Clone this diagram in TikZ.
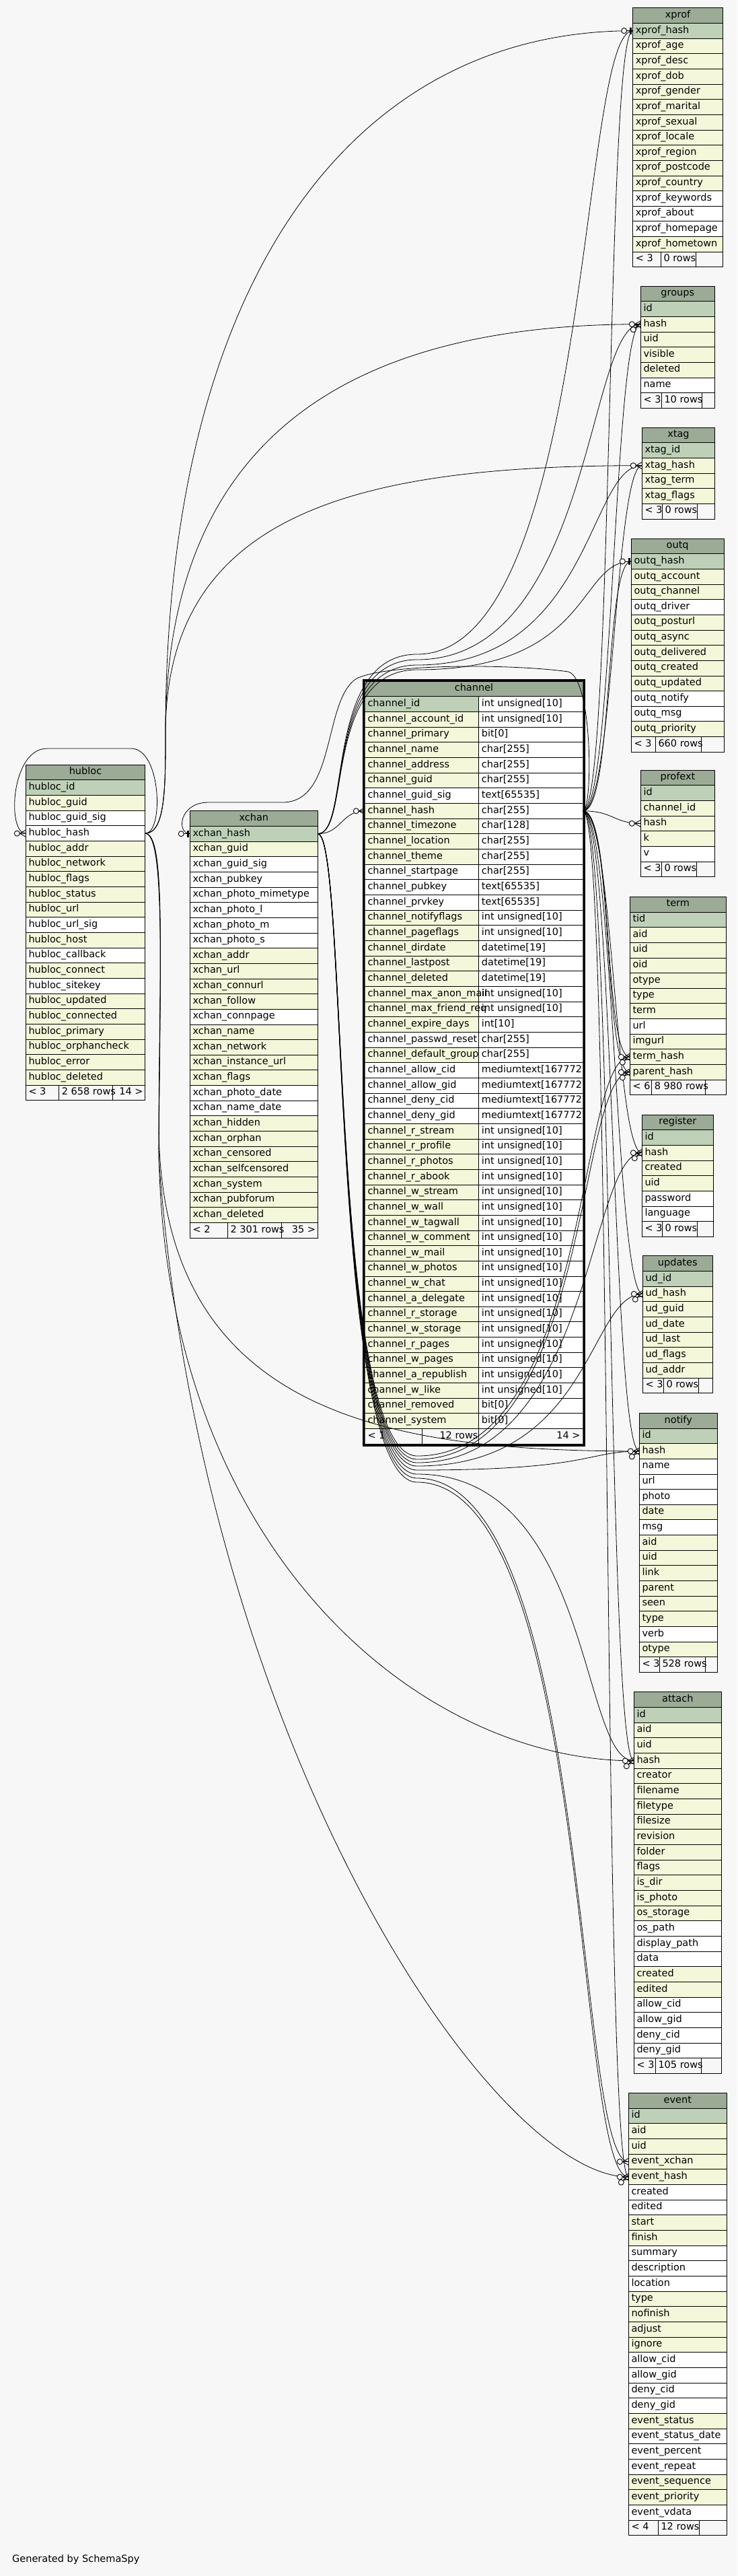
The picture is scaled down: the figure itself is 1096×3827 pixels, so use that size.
\documentclass[tikz,border=0pt]{standalone}
\usepackage{fontspec}
\setmainfont{DejaVu Sans}
\usetikzlibrary{positioning,calc}
\definecolor{canvas}{HTML}{F7F7F7}
\definecolor{hdr}{HTML}{9BAB96}
\definecolor{pk}{HTML}{BED1B8}
\definecolor{ix}{HTML}{F4F7DA}
\def\rowh{22.66}
\tikzset{
  rowbox/.style={draw, line width=0.9pt, anchor=north west, minimum height=22.66pt,
    inner sep=0pt, outer sep=0pt, font=\fontsize{14.5}{16}\selectfont,
    text height=10pt, text depth=3.3pt},
  txt/.style={anchor=west, inner sep=0pt, font=\fontsize{14.5}{16}\selectfont,
    text height=10pt, text depth=3.3pt},
  rel/.style={line width=0.8pt, line cap=round},
  crowfoot/.pic={
    \draw[line width=0.9pt] (-9,0) -- (0,-5) (-9,0) -- (0,5) (-9,0) -- (0,0);
    \draw[line width=0.9pt, fill=canvas] (-13,0) circle (4pt);
  },
  crowtwin/.pic={
    \draw[line width=0.9pt] (-9,0) -- (0,-5) (-9,0) -- (0,5) (-9,0) -- (0,0)
      (-8,5) -- (0,-3) (-8,5) -- (0,3);
    \draw[line width=0.9pt, fill=canvas] (-11,8) circle (4pt);
    \draw[line width=0.9pt, fill=canvas] (-13,0) circle (4pt);
  },
  onebar/.pic={
    \draw[line width=0.9pt] (-9,0) -- (0,0);
    \draw[line width=2.5pt] (-3,-5) -- (-3,5);
    \draw[line width=0.9pt, fill=canvas] (-13,0) circle (4pt);
  }
}
% #1 name, #2 title, #3 left, #4 top, #5 width, #6 rows (text/colour)
\newcommand\dbtable[6]{
  \node[rowbox, fill=hdr, minimum width=#5pt] (#1) at (#3,#4) {#2};
  \foreach \fld/\clr [count=\i] in {#6} {
    \node[rowbox, fill=\clr, minimum width=#5pt] (#1-\i) at (#3,{#4+\i*\rowh}) {};
    \node[txt] at ([xshift=4pt]#1-\i.west) {\fld};
  }
}
% #1 name, #2 rows, #3 left, #4 top, #5-#7 cell widths, #8 #9 texts
\newcommand\dbfoot[9]{
  \pgfmathsetmacro\fy{#4+(#2+1)*\rowh}
  \node[rowbox, fill=canvas, minimum width=#5pt] (#1-fa) at (#3,\fy) {};
  \node[rowbox, fill=canvas, minimum width=#6pt] (#1-fb) at (#1-fa.north east) {};
  \node[rowbox, fill=canvas, minimum width=#7pt] (#1-fc) at (#1-fb.north east) {};
  \node[txt] at ([xshift=4pt]#1-fa.west) {#8};
  \node[txt] at ([xshift=4pt]#1-fb.west) {#9};
}
\begin{document}
\begin{tikzpicture}[x=1pt,y=-1pt]
\fill[canvas] (0,0) rectangle (1096,3827);

% right column
\dbtable{xprof}{xprof}{940.7}{11.7}{133.6}{xprof\_hash/pk, xprof\_age/ix, xprof\_desc/ix, xprof\_dob/ix, xprof\_gender/ix, xprof\_marital/ix, xprof\_sexual/ix, xprof\_locale/ix, xprof\_region/ix, xprof\_postcode/ix, xprof\_country/ix, xprof\_keywords/white, xprof\_about/white, xprof\_homepage/white, xprof\_hometown/ix}
\dbfoot{xprof}{15}{940.7}{11.7}{41.6}{52}{40}{< 3}{0 rows}

\dbtable{groups}{groups}{952.3}{425}{110}{id/pk, hash/ix, uid/ix, visible/ix, deleted/ix, name/white}
\dbfoot{groups}{6}{952.3}{425}{31}{60}{19}{< 3}{10 rows}

\dbtable{xtag}{xtag}{954.3}{635}{108.4}{xtag\_id/pk, xtag\_hash/ix, xtag\_term/ix, xtag\_flags/ix}
\dbfoot{xtag}{4}{954.3}{635}{30}{52}{26.4}{< 3}{0 rows}

\dbtable{outq}{outq}{938.3}{800}{137.7}{outq\_hash/pk, outq\_account/ix, outq\_channel/ix, outq\_driver/white, outq\_posturl/ix, outq\_async/ix, outq\_delivered/ix, outq\_created/ix, outq\_updated/ix, outq\_notify/white, outq\_msg/white, outq\_priority/ix}
\dbfoot{outq}{12}{938.3}{800}{36}{68.4}{33.3}{< 3}{660 rows}

\dbtable{profext}{profext}{952.3}{1144}{110.4}{id/pk, channel\_id/ix, hash/ix, k/ix, v/white}
\dbfoot{profext}{5}{952.3}{1144}{31}{52}{27.4}{< 3}{0 rows}

\dbtable{term}{term}{936.3}{1332.3}{143}{tid/pk, aid/ix, uid/ix, oid/ix, otype/ix, type/ix, term/ix, url/white, imgurl/ix, term\_hash/ix, parent\_hash/ix}
\dbfoot{term}{11}{936.3}{1332.3}{32.4}{79.6}{31}{< 6}{8 980 rows}

\dbtable{register}{register}{954.3}{1656}{106}{id/pk, hash/ix, created/ix, uid/ix, password/white, language/white}
\dbfoot{register}{6}{954.3}{1656}{30}{52}{24}{< 3}{0 rows}

\dbtable{updates}{updates}{955.3}{1865.7}{104}{ud\_id/pk, ud\_hash/ix, ud\_guid/ix, ud\_date/ix, ud\_last/ix, ud\_flags/ix, ud\_addr/ix}
\dbfoot{updates}{7}{955.3}{1865.7}{31}{52}{21}{< 3}{0 rows}

\dbtable{notify}{notify}{950.3}{2099.3}{116}{id/pk, hash/ix, name/white, url/white, photo/white, date/ix, msg/white, aid/ix, uid/ix, link/ix, parent/ix, seen/ix, type/ix, verb/white, otype/ix}
\dbfoot{notify}{15}{950.3}{2099.3}{30}{68}{18}{< 3}{528 rows}

\dbtable{attach}{attach}{942.3}{2513.9}{130}{id/pk, aid/ix, uid/ix, hash/ix, creator/ix, filename/ix, filetype/ix, filesize/ix, revision/ix, folder/ix, flags/ix, is\_dir/ix, is\_photo/ix, os\_storage/ix, os\_path/white, display\_path/white, data/white, created/ix, edited/ix, allow\_cid/white, allow\_gid/white, deny\_cid/white, deny\_gid/white}
\dbfoot{attach}{23}{942.3}{2513.9}{32}{68}{30}{< 3}{105 rows}

\dbtable{event}{event}{934.3}{3109.5}{146}{id/pk, aid/ix, uid/ix, event\_xchan/ix, event\_hash/ix, created/white, edited/white, start/ix, finish/ix, summary/white, description/white, location/white, type/ix, nofinish/ix, adjust/ix, ignore/ix, allow\_cid/white, allow\_gid/white, deny\_cid/white, deny\_gid/white, event\_status/ix, event\_status\_date/white, event\_percent/white, event\_repeat/white, event\_sequence/ix, event\_priority/ix, event\_vdata/white}
\dbfoot{event}{27}{934.3}{3109.5}{44}{60.7}{41.3}{< 4}{12 rows}

% left side
\dbtable{hubloc}{hubloc}{38.3}{1136.2}{177.4}{hubloc\_id/pk, hubloc\_guid/ix, hubloc\_guid\_sig/white, hubloc\_hash/white, hubloc\_addr/ix, hubloc\_network/ix, hubloc\_flags/ix, hubloc\_status/ix, hubloc\_url/ix, hubloc\_url\_sig/white, hubloc\_host/ix, hubloc\_callback/white, hubloc\_connect/ix, hubloc\_sitekey/white, hubloc\_updated/ix, hubloc\_connected/ix, hubloc\_primary/ix, hubloc\_orphancheck/ix, hubloc\_error/ix, hubloc\_deleted/ix}
\dbfoot{hubloc}{20}{38.3}{1136.2}{49.4}{79.6}{48.4}{< 3}{2 658 rows}
\node[txt, anchor=east] at ([xshift=-3pt]hubloc-fc.east) {14 >};

\dbtable{xchan}{xchan}{282.3}{1204.7}{190}{xchan\_hash/pk, xchan\_guid/ix, xchan\_guid\_sig/white, xchan\_pubkey/white, xchan\_photo\_mimetype/white, xchan\_photo\_l/white, xchan\_photo\_m/white, xchan\_photo\_s/white, xchan\_addr/ix, xchan\_url/ix, xchan\_connurl/ix, xchan\_follow/ix, xchan\_connpage/white, xchan\_name/ix, xchan\_network/ix, xchan\_instance\_url/ix, xchan\_flags/ix, xchan\_photo\_date/white, xchan\_name\_date/white, xchan\_hidden/ix, xchan\_orphan/ix, xchan\_censored/ix, xchan\_selfcensored/ix, xchan\_system/ix, xchan\_pubforum/ix, xchan\_deleted/ix}
\dbfoot{xchan}{26}{282.3}{1204.7}{56}{80}{54}{< 2}{2 301 rows}
\node[txt, anchor=east] at ([xshift=-3pt]xchan-fc.east) {35 >};

% channel, the focus table
\begin{scope}
\clip (542.3,1012.2) rectangle (866.7,2146);
\node[rowbox, fill=hdr, minimum width=324.4pt] (channel) at (542.3,1012.2) {channel};
\foreach \fld/\clr/\typ [count=\i] in {channel\_id/pk/int unsigned[10], channel\_account\_id/ix/int unsigned[10], channel\_primary/ix/bit[0], channel\_name/ix/char[255], channel\_address/ix/char[255], channel\_guid/ix/char[255], channel\_guid\_sig/white/text[65535], channel\_hash/ix/char[255], channel\_timezone/ix/char[128], channel\_location/ix/char[255], channel\_theme/ix/char[255], channel\_startpage/white/char[255], channel\_pubkey/white/text[65535], channel\_prvkey/white/text[65535], channel\_notifyflags/ix/int unsigned[10], channel\_pageflags/ix/int unsigned[10], channel\_dirdate/ix/datetime[19], channel\_lastpost/ix/datetime[19], channel\_deleted/ix/datetime[19], channel\_max\_anon\_mail/ix/int unsigned[10], channel\_max\_friend\_req/ix/int unsigned[10], channel\_expire\_days/ix/int[10], channel\_passwd\_reset/white/char[255], channel\_default\_group/ix/char[255], channel\_allow\_cid/white/mediumtext[16777215], channel\_allow\_gid/white/mediumtext[16777215], channel\_deny\_cid/white/mediumtext[16777215], channel\_deny\_gid/white/mediumtext[16777215], channel\_r\_stream/ix/int unsigned[10], channel\_r\_profile/ix/int unsigned[10], channel\_r\_photos/ix/int unsigned[10], channel\_r\_abook/ix/int unsigned[10], channel\_w\_stream/ix/int unsigned[10], channel\_w\_wall/ix/int unsigned[10], channel\_w\_tagwall/ix/int unsigned[10], channel\_w\_comment/ix/int unsigned[10], channel\_w\_mail/ix/int unsigned[10], channel\_w\_photos/ix/int unsigned[10], channel\_w\_chat/ix/int unsigned[10], channel\_a\_delegate/ix/int unsigned[10], channel\_r\_storage/ix/int unsigned[10], channel\_w\_storage/ix/int unsigned[10], channel\_r\_pages/ix/int unsigned[10], channel\_w\_pages/ix/int unsigned[10], channel\_a\_republish/ix/int unsigned[10], channel\_w\_like/ix/int unsigned[10], channel\_removed/ix/bit[0], channel\_system/ix/bit[0]} {
  \node[rowbox, fill=\clr, minimum width=169.4pt] (channel-\i) at (542.3,{1012.2+\i*\rowh}) {};
  \node[rowbox, fill=white, minimum width=155pt] (chantype-\i) at (711.7,{1012.2+\i*\rowh}) {};
  \node[txt] at ([xshift=4pt]channel-\i.west) {\fld};
  \node[txt] at ([xshift=4pt]chantype-\i.west) {\typ};
}
\node[rowbox, fill=canvas, minimum width=85pt] (channel-fa) at (542.3,2122.5) {};
\node[rowbox, fill=canvas, minimum width=84.4pt] (channel-fb) at (channel-fa.north east) {};
\node[rowbox, fill=canvas, minimum width=155pt] (channel-fc) at (channel-fb.north east) {};
\node[txt] at ([xshift=4pt]channel-fa.west) {< 1};
\node[txt, anchor=east] at ([xshift=-1pt]channel-fb.east) {12 rows};
\node[txt, anchor=east] at ([xshift=-4pt]channel-fc.east) {14 >};
\end{scope}
\draw[line width=3pt] (540.3,1010.2) rectangle (868.5,2147.5);

% relationships
% hubloc_hash onto itself, round the top
\draw[rel] (hubloc-4.east) .. controls +(28,0) and (240,1112) .. (195,1112) -- (70,1112) .. controls (16,1112) and (10,1238) .. (hubloc-4.west);
% channel_hash to xchan_hash, over channel and xchan
\draw[rel] (chantype-8.east) .. controls +(14,0) and (882,1010) .. (845,998) .. controls (760,986) and (575,986) .. (530,1008) .. controls (480,1040) and (500,1192) .. (420,1192) -- (310,1192) .. controls (266,1192) and (262,1238) .. (xchan-1.west);
% xchan_hash to channel_hash
\draw[rel] (xchan-1.east) .. controls +(35,0) and +(-35,0) .. (channel-8.west);
% channel_hash to the right column
\foreach \k in {xprof-1,groups-2,xtag-2,outq-1,profext-3,term-10,term-11,register-2,updates-2,notify-2,attach-4,event-5}
  \draw[rel] (chantype-8.east) .. controls +(45,0) and +(-40,0) .. (\k.west);
% xchan_hash over the channel
\foreach \k/\y in {xprof-1/972,groups-2/980,xtag-2/988,outq-1/995}
  \draw[rel] (xchan-1.east) .. controls +(50,0) and (480,\y) .. (620,\y) .. controls (880,\y) and +(-80,0) .. (\k.west);
% xchan_hash under the channel
\foreach \k/\y in {term-10/2163,term-11/2168,register-2/2173,updates-2/2178,notify-2/2184,attach-4/2190,event-4/2196,event-5/2202}
  \draw[rel] (xchan-1.east) .. controls +(45,0) and (490,\y) .. (620,\y) .. controls (880,\y) and +(-80,0) .. (\k.west);
% hubloc_hash upwards
\foreach \k/\c in {xprof-1/420,groups-2/640,xtag-2/760}
  \draw[rel] (hubloc-4.east) .. controls +(30,0) and (246,1170) .. (246,1090) .. controls (246,\c) and +(-420,0) .. (\k.west);
% hubloc_hash downwards
\draw[rel] (hubloc-4.east) .. controls +(30,0) and (238,1400) .. (236,1660) .. controls (232,2100) and +(-380,0) .. (notify-2.west);
\draw[rel] (hubloc-4.east) .. controls +(30,0) and (238,1420) .. (236,1700) .. controls (240,2300) and +(-320,0) .. (attach-4.west);
\draw[rel] (hubloc-4.east) .. controls +(30,0) and (238,1440) .. (236,1720) .. controls (300,2600) and +(-200,0) .. (event-5.west);

% child ends
\foreach \k in {xtag-2,profext-3,event-4,hubloc-4,channel-8}
  \pic at (\k.west) {crowfoot};
\foreach \k in {groups-2,term-10,term-11,register-2,updates-2,notify-2,attach-4,event-5}
  \pic at (\k.west) {crowtwin};
\foreach \k in {xprof-1,outq-1,xchan-1}
  \pic at (\k.west) {onebar};

\node[txt, anchor=west] (credit) at (18,3803) {Generated by SchemaSpy};
\end{tikzpicture}
\end{document}
